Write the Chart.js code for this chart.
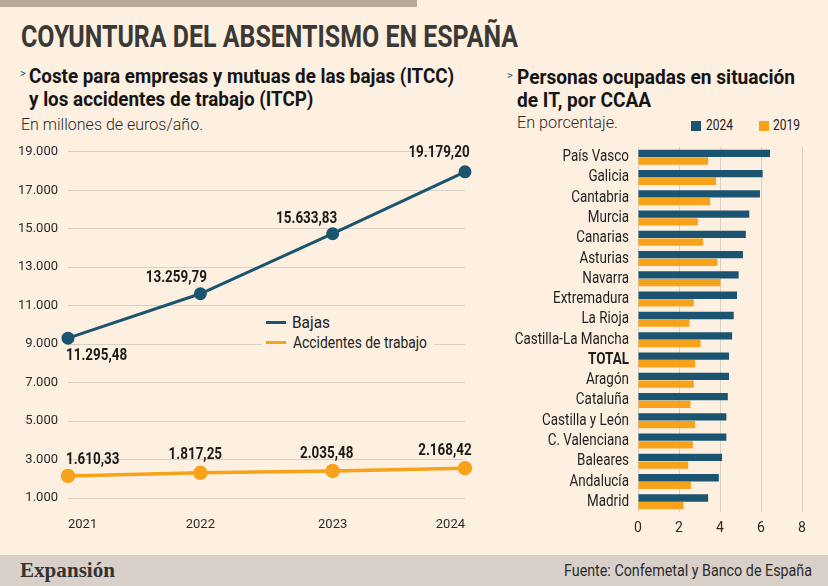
<!DOCTYPE html>
<html>
<head>
<meta charset="utf-8">
<script src="https://cdn.jsdelivr.net/npm/chart.js@4.4.1/dist/chart.umd.min.js"></script>
<style>
  body { margin: 0; width: 828px; height: 586px; background: #fdf0e1; position: relative; overflow: hidden;
         font-family: Roboto, sans-serif; color: #222; }
  .topbar { position: absolute; left: 0; top: 0; width: 417px; height: 7px; background: #b7aa99; }
  .fit { position: absolute; white-space: nowrap; transform-origin: left top; }
  h1 { margin: 0; font-size: 32px; font-weight: bold; color: #3a3935; }
  h2 { margin: 0; font-size: 21px; font-weight: bold; line-height: 23px; color: #151515; }
  .chev { position: absolute; font-size: 11px; color: #1b5470; }
  .note { font-size: 17px; font-weight: 300; color: #2a2a2a; }
  .legbox { position: absolute; left: 262px; top: 312px; width: 172px; height: 42px; background: #fdf0e1; }
  .leg { position: absolute; font-size: 16px; color: #222; white-space: nowrap; transform-origin: left top; }
  .ln { position: absolute; width: 20px; height: 3px; }
  .sq { position: absolute; width: 10px; height: 10px; top: 121px; }
  .rl { position: absolute; top: 117px; font-size: 14px; color: #222; transform-origin: left top; }
  canvas { position: absolute; }
  .footer { position: absolute; left: 0; top: 555px; width: 828px; height: 31px; background: #d9d1c9; }
  .brand { position: absolute; left: 20px; top: 2px; font-family: "Liberation Serif", serif; font-weight: bold; font-size: 22px; color: #353230; transform-origin: left top; white-space: nowrap; }
  .source { position: absolute; left: 564px; top: 6px; font-size: 16px; color: #2b2b2b; transform-origin: left top; white-space: nowrap; }
</style>
</head>
<body>
<div class="topbar"></div>
<h1 class="fit" data-w="497" style="left:21px; top:17px;">COYUNTURA DEL ABSENTISMO EN ESPAÑA</h1>

<span class="chev" style="left:20px; top:67px;">&gt;</span>
<h2 class="fit" data-w="425" style="left:29px; top:64.5px;">Coste para empresas y mutuas de las bajas (ITCC)<br>y los accidentes de trabajo (ITCP)</h2>
<div class="fit note" data-w="182" style="left:20.7px; top:113.5px;">En millones de euros/año.</div>

<span class="chev" style="left:507px; top:69px;">&gt;</span>
<h2 class="fit" data-w="278" style="left:517px; top:66.3px;">Personas ocupadas en situación<br>de IT, por CCAA</h2>
<div class="fit note" data-w="101" style="left:517px; top:112px;">En porcentaje.</div>

<div class="sq" style="left:691px; background:#1b5470"></div>
<div class="rl fit" data-w="27" style="left:706px;">2024</div>
<div class="sq" style="left:759px; background:#f7a21b"></div>
<div class="rl fit" data-w="27" style="left:773px;">2019</div>

<canvas id="lineChart" width="490" height="394" style="left:10px; top:134px;"></canvas>
<canvas id="barChart" width="328" height="400" style="left:500px; top:140px;"></canvas>

<div class="legbox"></div>
<div class="ln" style="left:266px; top:321px; background:#1b5470"></div>
<div class="leg fit" data-w="38" style="left:292px; top:313px;">Bajas</div>
<div class="ln" style="left:266px; top:341px; background:#f7a21b"></div>
<div class="leg fit" data-w="134" style="left:292.7px; top:333px;">Accidentes de trabajo</div>

<div class="footer">
  <div class="brand fit" data-w="95">Expansión</div>
  <div class="source fit" data-w="248">Fuente: Confemetal y Banco de España</div>
</div>

<script>
const years = ['2021', '2022', '2023', '2024'];
// plotted positions
const bajas = [9310, 11620, 14740, 17960];
const accidentes = [2150, 2310, 2410, 2550];
// printed labels on the reference
const bajasLabels = ['11.295,48', '13.259,79', '15.633,83', '19.179,20'];
const accidentesLabels = ['1.610,33', '1.817,25', '2.035,48', '2.168,42'];
const yTicks = [1000, 3000, 5000, 7000, 9000, 11000, 13000, 15000, 17000, 19000];

const regions = ['País Vasco', 'Galicia', 'Cantabria', 'Murcia', 'Canarias', 'Asturias', 'Navarra',
  'Extremadura', 'La Rioja', 'Castilla-La Mancha', 'TOTAL', 'Aragón', 'Cataluña', 'Castilla y León',
  'C. Valenciana', 'Baleares', 'Andalucía', 'Madrid'];
const it2024 = [6.44, 6.08, 5.95, 5.43, 5.26, 5.12, 4.91, 4.83, 4.67, 4.59, 4.44, 4.44, 4.38, 4.31, 4.31, 4.10, 3.94, 3.42];
const it2019 = [3.42, 3.81, 3.52, 2.92, 3.18, 3.87, 4.02, 2.72, 2.51, 3.05, 2.79, 2.72, 2.56, 2.79, 2.68, 2.45, 2.58, 2.22];

const BLUE = '#1b5470';
const ORANGE = '#f7a21b';
const NARROW = 0.84;

// squeeze html text to the width it has in the reference (no condensed font installed)
document.querySelectorAll('.fit').forEach(el => {
  el.style.display = 'inline-block';
  const w = el.getBoundingClientRect().width;
  el.style.transform = 'scaleX(' + (el.dataset.w / w) + ')';
});

function narrowText(ctx, text, x, y, align, font, color) {
  ctx.save();
  ctx.font = font;
  ctx.fillStyle = color;
  ctx.textAlign = align;
  ctx.textBaseline = 'middle';
  ctx.translate(x, y);
  ctx.scale(NARROW, 1);
  ctx.fillText(text, 0, 0);
  ctx.restore();
}

// printed value next to each point
const valueLabels = {
  id: 'valueLabels',
  afterDatasetsDraw(chart, args, opts) {
    chart.data.datasets.forEach((ds, i) => {
      chart.getDatasetMeta(i).data.forEach((pt, j) => {
        const p = opts.placement[i][j];
        narrowText(chart.ctx, opts.texts[i][j], pt.x + p.dx, pt.y + p.dy, p.align || 'center',
          'bold 16px Roboto', '#1a1a1a');
      });
    });
  }
};

// region names on the category axis
const regionLabels = {
  id: 'regionLabels',
  afterDraw(chart) {
    const y = chart.scales.y;
    chart.data.labels.forEach((lab, i) => {
      const bold = lab === 'TOTAL';
      narrowText(chart.ctx, lab, chart.chartArea.left - 9, y.getPixelForTick(i), 'right',
        (bold ? 'bold ' : '') + '16px Roboto', '#1f1f1f');
    });
  }
};

new Chart(document.getElementById('lineChart'), {
  type: 'line',
  data: {
    labels: years,
    datasets: [
      { label: 'Bajas', data: bajas, borderColor: BLUE, backgroundColor: BLUE, borderWidth: 3, pointRadius: 5 },
      { label: 'Accidentes de trabajo', data: accidentes, borderColor: ORANGE, backgroundColor: ORANGE, borderWidth: 3.5, pointRadius: 5.5 }
    ]
  },
  options: {
    responsive: false,
    animation: false,
    devicePixelRatio: 1,
    layout: { autoPadding: false, padding: { left: 8, top: 11, right: 35, bottom: 0 } },
    plugins: {
      legend: { display: false },
      tooltip: { enabled: false },
      valueLabels: {
        texts: [bajasLabels, accidentesLabels],
        placement: [
          [{ dx: -2, dy: 18, align: 'left' }, { dx: -24, dy: -16 }, { dx: -26, dy: -15 }, { dx: -26, dy: -19 }],
          [{ dx: -2, dy: -16, align: 'left' }, { dx: -5, dy: -18 }, { dx: -6, dy: -17 }, { dx: -20, dy: -17 }]
        ]
      }
    },
    scales: {
      x: {
        offset: false,
        grid: { display: false },
        border: { display: false },
        ticks: { align: 'inner', color: '#2a2a2a', font: { family: 'Roboto', size: 13 }, padding: 11 },
        afterFit: s => { s.height = 30; }
      },
      y: {
        min: 1000, max: 19000,
        afterBuildTicks: s => { s.ticks = yTicks.map(v => ({ value: v })); },
        grid: { color: '#d9d0c5', drawTicks: false },
        border: { display: false },
        ticks: { color: '#2a2a2a', font: { family: 'Roboto', size: 13 }, padding: 10,
                 callback: v => v.toLocaleString('de-DE') },
        afterFit: s => { s.width = 50; }
      }
    }
  },
  plugins: [valueLabels]
});

new Chart(document.getElementById('barChart'), {
  type: 'bar',
  data: {
    labels: regions,
    datasets: [
      { label: '2024', data: it2024, backgroundColor: BLUE },
      { label: '2019', data: it2019, backgroundColor: ORANGE }
    ]
  },
  options: {
    indexAxis: 'y',
    responsive: false,
    animation: false,
    devicePixelRatio: 1,
    datasets: { bar: { categoryPercentage: 0.76, barPercentage: 0.95 } },
    layout: { autoPadding: false, padding: { left: 0, top: 7, right: 26, bottom: 0 } },
    plugins: { legend: { display: false }, tooltip: { enabled: false } },
    scales: {
      x: {
        min: 0, max: 8,
        ticks: { stepSize: 2, color: '#2a2a2a', font: { family: 'Roboto', size: 14 }, padding: 8 },
        grid: { color: '#d9d0c5', drawTicks: false },
        border: { display: false },
        afterFit: s => { s.height = 28; }
      },
      y: {
        grid: { display: false },
        border: { display: false },
        ticks: { display: false },
        afterFit: s => { s.width = 138; }
      }
    }
  },
  plugins: [regionLabels]
});
</script>
</body>
</html>
